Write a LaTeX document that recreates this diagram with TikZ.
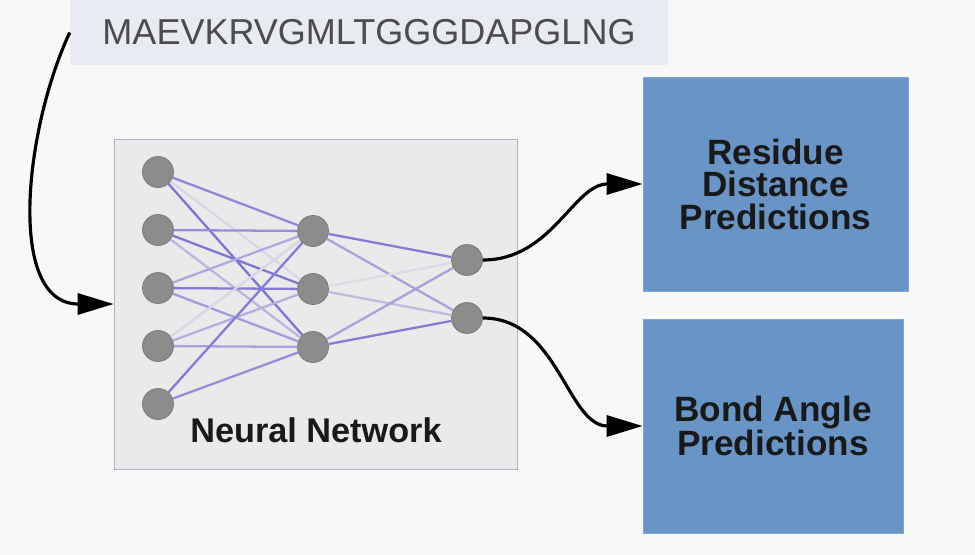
\documentclass[tikz,border=0pt]{standalone}
\usepackage{fontspec}
\setmainfont{Liberation Sans}
\usetikzlibrary{arrows.meta, positioning}
\definecolor{bgwhite}{RGB}{248,248,248}
\definecolor{seqgray}{RGB}{232,235,241}
\definecolor{netgray}{RGB}{234,234,234}
\definecolor{netframe}{RGB}{170,180,200}
\definecolor{cellgray}{RGB}{140,140,140}
\definecolor{wirepurple}{RGB}{112,104,212}
\definecolor{predblue}{RGB}{104,148,198}

\begin{document}
\begin{tikzpicture}[x=0.02cm, y=-0.02cm,
  neuron/.style={circle, draw=cellgray!85!black, fill=cellgray, minimum size=0.62cm, inner sep=0pt},
  predbox/.style={draw=predblue!85!white, fill=predblue, minimum height=4.28cm, text=black!90, align=center,
    font=\fontsize{20}{18.5}\selectfont\bfseries},
  flow/.style={line width=1.8pt, -{Triangle[length=0.72cm, width=0.42cm]}}]

  \fill[bgwhite] (0,0) rectangle (975,555);
  \useasboundingbox (0,0) rectangle (975,555);

  % sequence and network frame
  \node[fill=seqgray, minimum width=11.96cm, minimum height=1.3cm, text=black!70,
    font=\fontsize{20.5}{22}\selectfont] (seq) at (369,32.5) {MAEVKRVGMLTGGGDAPGLNG};
  \node[draw=netframe, fill=netgray, minimum width=8.06cm, minimum height=6.6cm] (net) at (315.5,304) {};
  \node[font=\fontsize{19.5}{22}\selectfont\bfseries, text=black!90] (netlabel) at (316,430) {Neural Network};

  % neurons
  \foreach \k in {1,...,5}
    \node[neuron] (i\k) at (158, {172+58*(\k-1)}) {};
  \foreach \k in {1,...,3}
    \node[neuron] (h\k) at (313, {231+58*(\k-1)}) {};
  \foreach \k in {1,2}
    \node[neuron] (o\k) at (467, {260+58*(\k-1)}) {};

  % weights
  \foreach \a/\b/\s in {i1/h1/75, i1/h2/15, i1/h3/90, i2/h1/70, i2/h2/90, i2/h3/40,
      i3/h1/50, i3/h2/85, i3/h3/60, i4/h1/15, i4/h2/45, i4/h3/55, i5/h1/85, i5/h3/70,
      h1/o1/85, h1/o2/55, h2/o1/12, h2/o2/35, h3/o1/55, h3/o2/85}
    \draw[wirepurple!\s!netgray, line width=1.3pt] (\a) -- (\b);

  % outputs
  \node[predbox, minimum width=5.3cm] (dist) at (775.5,184) {Residue\\Distance\\Predictions};
  \node[predbox, minimum width=5.2cm] (angle) at (773,426) {Bond Angle\\Predictions};

  \draw[flow] (seq.west) to[out=245, in=180] (net.west);
  \draw[flow] (o1.east) to[out=0, in=180] (dist.west);
  \draw[flow] (o2.east) to[out=0, in=180] (angle.west);
\end{tikzpicture}
\end{document}
